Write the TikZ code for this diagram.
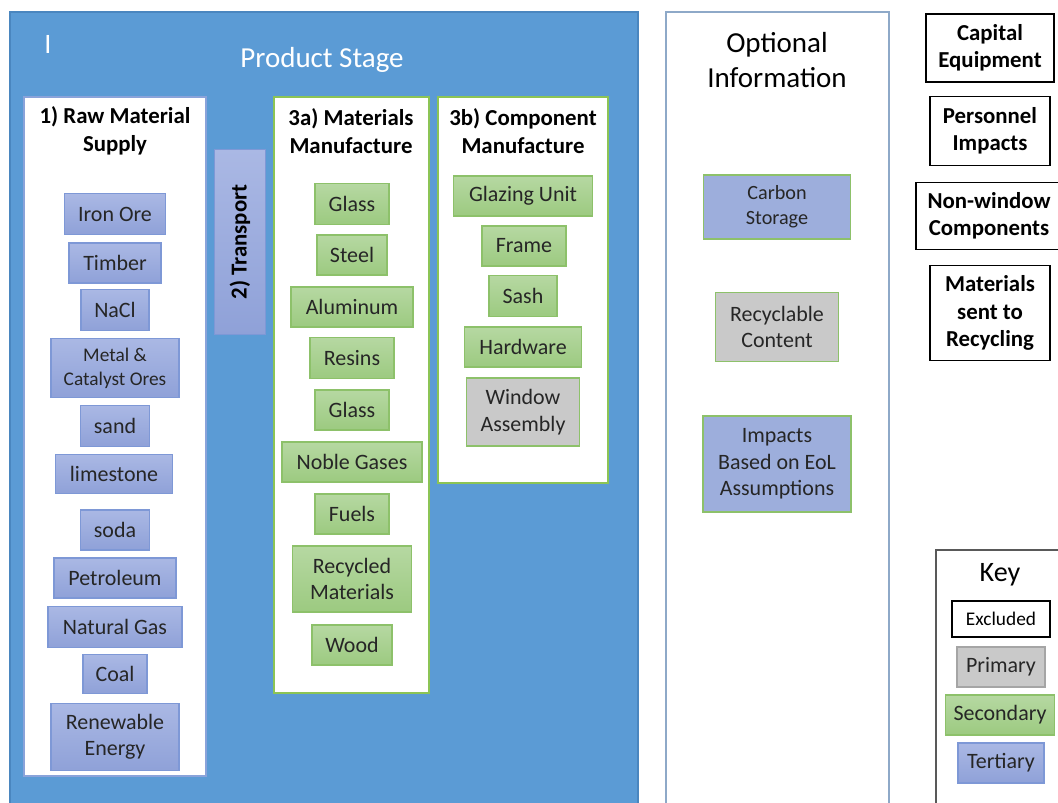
\documentclass[tikz,border=0pt]{standalone}
\usepackage{fontspec}
\setmainfont{Carlito}

\definecolor{stageblue}{HTML}{5B9BD5}
\definecolor{stageline}{HTML}{4A86BF}
\definecolor{tertTop}{HTML}{AAB8E4}
\definecolor{tertBot}{HTML}{8FA1D8}
\definecolor{tertline}{HTML}{7E98D6}
\definecolor{tertflat}{HTML}{9DAEDC}
\definecolor{secTop}{HTML}{B6D8A2}
\definecolor{secBot}{HTML}{9CCA80}
\definecolor{secline}{HTML}{8DC16A}
\definecolor{primfill}{HTML}{C9C9C9}
\definecolor{primline}{HTML}{A5A5A5}
\definecolor{rawline}{HTML}{8AA3DA}
\definecolor{matline}{HTML}{8CC455}
\definecolor{optline}{HTML}{8EA9C8}
\definecolor{keyline}{HTML}{595959}
\definecolor{txt}{HTML}{262626}

\tikzset{
  item/.style={draw, line width=0.6pt, inner sep=0pt, minimum height=0.8cm,
    align=center, text=txt, font=\fontsize{12.5}{15}\selectfont},
  sz/.style 2 args={minimum width=#1cm, minimum height=#2cm},
  tert/.style={item, draw=tertline, top color=tertTop, bottom color=tertBot},
  sec/.style={item, draw=secline, top color=secTop, bottom color=secBot},
  prim/.style={item, draw=primline, fill=primfill},
  excl/.style={item, draw=black, line width=1pt, fill=white, text=black,
    font=\bfseries\fontsize{13}{15.5}\selectfont},
  head/.style={align=center, font=\bfseries\fontsize{13}{16}\selectfont},
  keybox/.style={item, font=\fontsize{11}{13}\selectfont, minimum height=0.72cm}
}

\begin{document}
\begin{tikzpicture}[x=0.02cm,y=-0.02cm]
  \useasboundingbox (0,0) rectangle (1058,802);

  % product stage
  \fill[stageblue] (10,12) rectangle (638,810);
  \draw[stageline, line width=0.6pt] (10,812) -- (10,12) -- (638,12) -- (638,812);
  \node[white, font=\fontsize{16}{16}\selectfont] (cursor) at (48,44) {I};
  \node[white, font=\fontsize{16.5}{19}\selectfont] (stage) at (322,60) {Product Stage};

  % 1) raw material supply
  \draw[draw=rawline, fill=white, line width=0.8pt] (24,97) rectangle (206,776);
  \node[head] (rawhead) at (115,131) {1) Raw Material\\Supply};
  \node[tert, sz={2.02}{0.82}] (iron) at (115,214) {Iron Ore};
  \node[tert, sz={1.84}{0.80}] (timber) at (115,263) {Timber};
  \node[tert, sz={1.36}{0.82}] (nacl) at (115,310) {NaCl};
  \node[tert, sz={2.56}{1.18}, font=\fontsize{11}{13.5}\selectfont] (ores) at (115,368) {Metal \&\\Catalyst Ores};
  \node[tert, sz={1.38}{0.82}] (sand) at (115,426) {sand};
  \node[tert, sz={2.34}{0.78}] (lime) at (114,474) {limestone};
  \node[tert, sz={1.38}{0.80}] (soda) at (115,530) {soda};
  \node[tert, sz={2.44}{0.80}] (petrol) at (115,578) {Petroleum};
  \node[tert, sz={2.68}{0.82}] (natgas) at (115,627) {Natural Gas};
  \node[tert, sz={1.28}{0.78}] (coal) at (115,674) {Coal};
  \node[tert, sz={2.56}{1.34}] (renew) at (115,737) {Renewable\\Energy};

  % 2) transport
  \node[tert, rotate=90, sz={3.7}{1.02}, text=black, font=\bfseries\fontsize{13}{16}\selectfont] (transport) at (240,242) {2) Transport};

  % 3a) materials manufacture
  \draw[draw=matline, fill=white, line width=0.8pt] (274,97) rectangle (429,693);
  \node[head] (mathead) at (351,131) {3a) Materials\\Manufacture};
  \node[sec, sz={1.48}{0.82}] (glassa) at (352,204) {Glass};
  \node[sec, sz={1.40}{0.80}] (steel) at (352,255) {Steel};
  \node[sec, sz={2.44}{0.80}] (alu) at (352,307) {Aluminum};
  \node[sec, sz={1.68}{0.82}] (resins) at (352,358) {Resins};
  \node[sec, sz={1.48}{0.80}] (glassb) at (352,410) {Glass};
  \node[sec, sz={2.80}{0.80}] (noble) at (352,462) {Noble Gases};
  \node[sec, sz={1.48}{0.80}] (fuels) at (352,514) {Fuels};
  \node[sec, sz={2.38}{1.32}] (recyc) at (352,579) {Recycled\\Materials};
  \node[sec, sz={1.60}{0.80}] (wood) at (352,645) {Wood};

  % 3b) component manufacture
  \draw[draw=matline, fill=white, line width=0.8pt] (438,97) rectangle (608,483);
  \node[head] (comphead) at (523,131) {3b) Component\\Manufacture};
  \node[sec, sz={2.78}{0.80}] (glazing) at (523,196) {Glazing Unit};
  \node[sec, sz={1.68}{0.80}] (frame) at (524,246) {Frame};
  \node[sec, sz={1.36}{0.82}] (sash) at (523,296) {Sash};
  \node[sec, sz={2.34}{0.80}] (hardware) at (523,347) {Hardware};
  \node[prim, draw=secline, sz={2.26}{1.36}] (assembly) at (523,412) {Window\\Assembly};

  % optional information
  \draw[draw=optline, fill=white, line width=0.8pt] (666,812) -- (666,12) -- (889,12) -- (889,812);
  \node[align=center, font=\fontsize{16.5}{19.5}\selectfont] (opthead) at (777,60) {Optional\\Information};
  \node[item, draw=secline, fill=tertflat, sz={2.94}{1.28}, font=\fontsize{11.5}{14}\selectfont] (carbon) at (777,207) {Carbon\\Storage};
  \node[prim, draw=secline, sz={2.46}{1.38}] (content) at (777,327) {Recyclable\\Content};
  \node[item, draw=secline, fill=tertflat, sz={2.96}{1.92}] (eol) at (777,464) {Impacts\\Based on EoL\\Assumptions};

  % excluded
  \node[excl, sz={2.56}{1.36}] (capital) at (990,48) {Capital\\Equipment};
  \node[excl, sz={2.40}{1.38}] (personnel) at (990,131) {Personnel\\Impacts};
  \node[excl, sz={2.92}{1.34}] (nonwindow) at (989,216) {Non-window\\Components};
  \node[excl, sz={2.40}{1.90}] (sent) at (990,313) {Materials\\sent to\\Recycling};

  % key
  \draw[draw=keyline, fill=white, line width=0.9pt] (1065,550) -- (936,550) -- (936,812);
  \node[font=\fontsize{16}{19}\selectfont] (keyhead) at (1000,575) {Key};
  \node[keybox, draw=black, line width=0.9pt, fill=white, text=black, minimum width=1.96cm] (kexcl) at (1001,619) {Excluded};
  \node[keybox, prim, minimum width=1.76cm] (kprim) at (1001,667) {Primary};
  \node[keybox, sec, minimum width=2.18cm] (ksec) at (1000,715) {Secondary};
  \node[keybox, tert, minimum width=1.72cm] (ktert) at (1001,763) {Tertiary};
\end{tikzpicture}
\end{document}
